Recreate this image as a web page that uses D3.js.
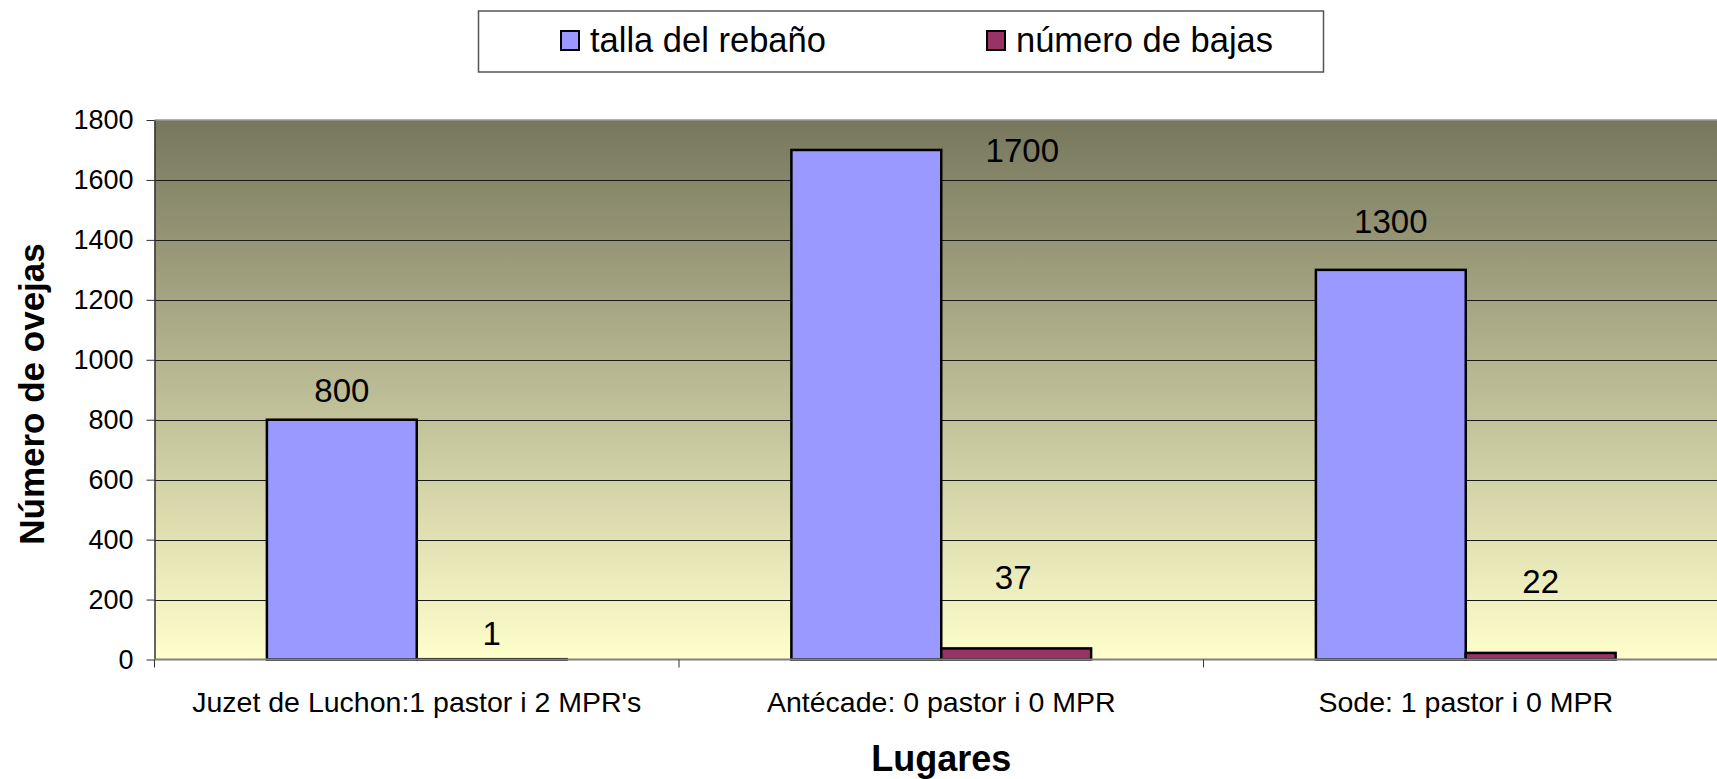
<!DOCTYPE html>
<html><head><meta charset="utf-8">
<script src="https://cdn.jsdelivr.net/npm/d3@7"></script>
<style>body{margin:0;background:#fff}svg{display:block}text{font-family:Arial,"Liberation Sans",sans-serif}</style>
</head><body><svg id="c" width="1717" height="779"></svg>
<script>
const categories = ["Juzet de Luchon:1 pastor i 2 MPR's", "Antécade: 0 pastor i 0 MPR", "Sode: 1 pastor i 0 MPR"];
const seriesNames = ["talla del rebaño", "número de bajas"];
const tallaRebano = [800, 1700, 1300];
const numeroBajas = [1, 37, 22];
const yTicks = [0, 200, 400, 600, 800, 1000, 1200, 1400, 1600, 1800];
const colors = ["#9999ff", "#993366"];
// manual label placement offsets (layout only)
const labelDx = [[0, 156, 0], [0, -3, 0]];
const labelDy = [[-30, 0, -49], [-26, -71, -72]];

const svg = d3.select("#c");
const L = 154.5, R = 1728, T = 120, B = 659.5;
const x = d3.scaleBand().domain(categories).range([L, R]).paddingInner(0).paddingOuter(0);
const xs = d3.scaleBand().domain(seriesNames).range([0, x.bandwidth()]).paddingInner(0).paddingOuter(0.75);
const y = d3.scaleLinear().domain([0, 1800]).range([B, T]);

const defs = svg.append("defs");
const g = defs.append("linearGradient").attr("id", "bg").attr("x1", 0).attr("y1", 0).attr("x2", 0).attr("y2", 1);
g.append("stop").attr("offset", "0%").attr("stop-color", "#77775d");
g.append("stop").attr("offset", "100%").attr("stop-color", "#ffffcc");

svg.append("rect").attr("x", L).attr("y", T).attr("width", R - L).attr("height", B - T).attr("fill", "url(#bg)");
svg.append("line").attr("x1", L).attr("x2", R).attr("y1", T).attr("y2", T).attr("stroke", "#9a9a9a").attr("stroke-width", 1.5);

// gridlines
svg.append("g").selectAll("line").data(yTicks.filter(d => d > 0 && d < 1800)).join("line")
  .attr("x1", L).attr("x2", R).attr("y1", d => Math.round(y(d)) + 0.5).attr("y2", d => Math.round(y(d)) + 0.5)
  .attr("stroke", "#1a1a1a").attr("stroke-width", 1);

// y axis
const ya = svg.append("g").attr("transform", `translate(${L},0)`)
  .call(d3.axisLeft(y).tickValues(yTicks).tickFormat(d3.format("d")).tickSize(8).tickPadding(13).tickSizeOuter(0));
ya.select(".domain").attr("stroke", "#333").attr("stroke-width", 1.5);
ya.selectAll(".tick line").attr("stroke", "#333");
ya.selectAll("text").attr("font-size", 27).attr("fill", "#000").attr("font-family", "Arial, 'Liberation Sans', sans-serif");

// bars
const series = [tallaRebano, numeroBajas];
const bars = svg.append("g");
series.forEach((vals, si) => {
  bars.selectAll(null).data(vals).join("rect")
    .attr("x", (d, i) => x(categories[i]) + xs(seriesNames[si]))
    .attr("y", d => y(d))
    .attr("width", xs.bandwidth())
    .attr("height", d => y(0) - y(d))
    .attr("fill", colors[si]).attr("stroke", "#000").attr("stroke-width", 2.5);
});

// x axis
const xa = svg.append("g").attr("transform", `translate(0,${B})`);
xa.append("line").attr("x1", L).attr("x2", R).attr("stroke", "#808080").attr("stroke-width", 2);
const bounds = categories.map(c => x(c)).concat([R]);
xa.selectAll(".tk").data(bounds).join("line").attr("class", "tk")
  .attr("x1", d => d).attr("x2", d => d).attr("y1", 0).attr("y2", 8).attr("stroke", "#333");
xa.selectAll(".cl").data(categories).join("text").attr("class", "cl")
  .attr("x", d => x(d) + x.bandwidth() / 2).attr("y", 52).attr("text-anchor", "middle")
  .attr("font-size", 28.5).text(d => d);

// data labels
series.forEach((vals, si) => {
  svg.append("g").selectAll("text").data(vals).join("text")
    .attr("x", (d, i) => x(categories[i]) + xs(seriesNames[si]) + xs.bandwidth() / 2 + labelDx[si][i])
    .attr("y", (d, i) => y(d) + labelDy[si][i])
    .attr("dy", "0.36em").attr("text-anchor", "middle").attr("font-size", 33).text(d => d);
});

// axis titles
svg.append("text").attr("x", (L + R) / 2).attr("y", 771).attr("text-anchor", "middle")
  .attr("font-size", 36).attr("font-weight", "bold").text("Lugares");
svg.append("text").attr("transform", "translate(44,394) rotate(-90)").attr("text-anchor", "middle")
  .attr("font-size", 35).attr("font-weight", "bold").text("Número de ovejas");

// legend
const lg = svg.append("g");
lg.append("rect").attr("x", 478.5).attr("y", 11).attr("width", 845).attr("height", 61)
  .attr("fill", "#fff").attr("stroke", "#555").attr("stroke-width", 1.5);
const legX = [561, 987];
seriesNames.forEach((s, i) => {
  lg.append("rect").attr("x", legX[i]).attr("y", 31).attr("width", 18).attr("height", 19)
    .attr("fill", colors[i]).attr("stroke", "#000").attr("stroke-width", 2);
  lg.append("text").attr("x", legX[i] + 29).attr("y", 52).attr("font-size", 34.5).text(s);
});
</script></body></html>
